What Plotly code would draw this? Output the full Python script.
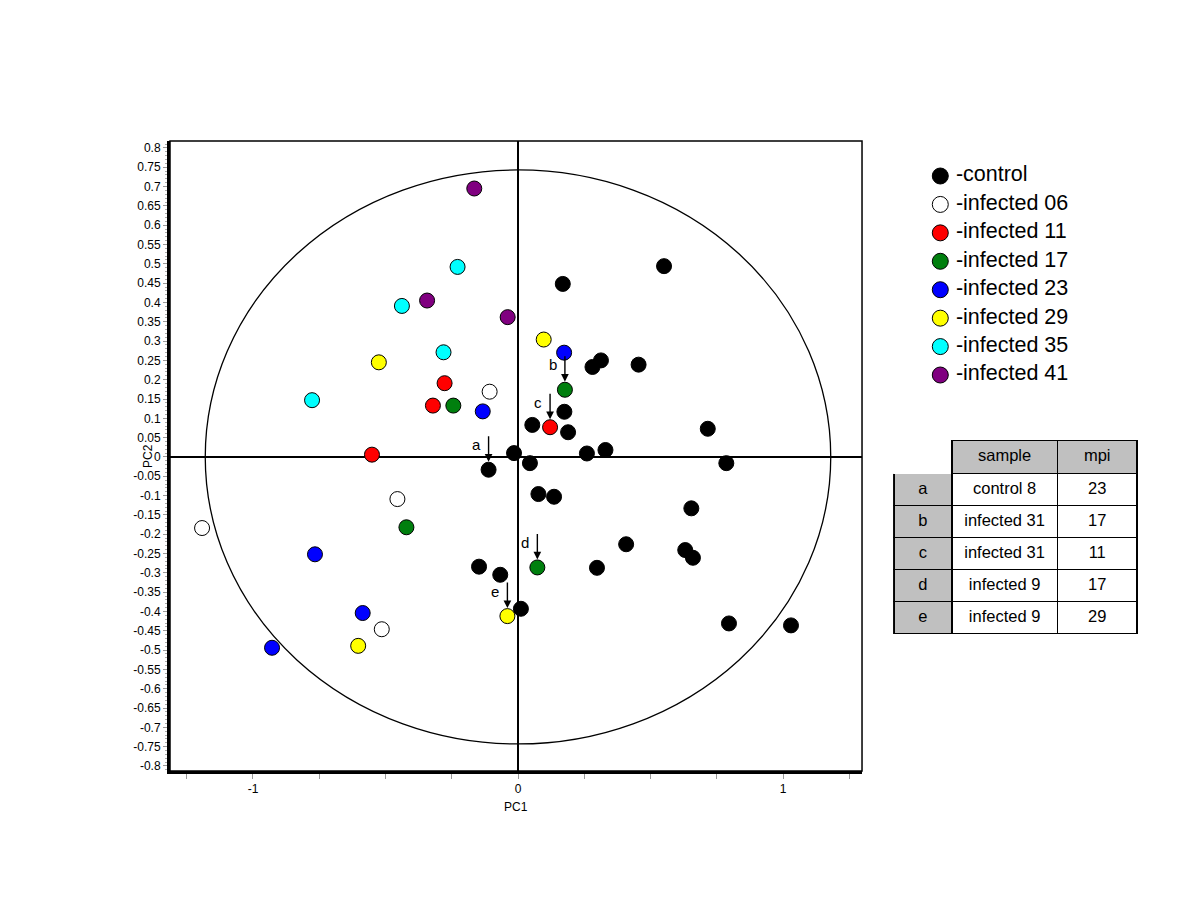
import plotly.graph_objects as go

# ---------------- data ----------------
groups = ["-control", "-infected 06", "-infected 11", "-infected 17",
          "-infected 23", "-infected 29", "-infected 35", "-infected 41"]
colors = ["#000000", "#ffffff", "#ff0000", "#007f0e", "#0000ff", "#ffff00", "#00ffff", "#800080"]

control_x = [0.169, 0.551, 0.313, 0.281, 0.455, 0.175, 0.054, 0.189, 0.716, -0.015, 0.260, 0.330,
             0.045, -0.111, 0.786, 0.077, 0.136, 0.654, 0.408, 0.631, 0.660, 0.298, -0.147, -0.067,
             0.011, 0.796, 1.030]
control_y = [0.448, 0.494, 0.250, 0.233, 0.239, 0.117, 0.083, 0.064, 0.073, 0.010, 0.009, 0.018,
             -0.016, -0.033, -0.016, -0.096, -0.103, -0.133, -0.226, -0.241, -0.261, -0.287, -0.284,
             -0.305, -0.393, -0.431, -0.436]
inf06_x = [-0.107, -0.455, -1.192, -0.514]
inf06_y = [0.169, -0.109, -0.184, -0.446]
inf11_x = [-0.277, -0.321, -0.551, 0.121]
inf11_y = [0.191, 0.133, 0.006, 0.077]
inf17_x = [-0.244, 0.177, -0.421, 0.073]
inf17_y = [0.133, 0.174, -0.182, -0.286]
inf23_x = [0.174, -0.133, -0.766, -0.586, -0.928]
inf23_y = [0.270, 0.118, -0.252, -0.404, -0.494]
inf29_x = [0.097, -0.525, -0.603, -0.040]
inf29_y = [0.304, 0.245, -0.489, -0.412]
inf35_x = [-0.228, -0.438, -0.281, -0.777]
inf35_y = [0.492, 0.391, 0.271, 0.147]
inf41_x = [-0.165, -0.343, -0.039]
inf41_y = [0.695, 0.405, 0.362]

series_x = [control_x, inf06_x, inf11_x, inf17_x, inf23_x, inf29_x, inf35_x, inf41_x]
series_y = [control_y, inf06_y, inf11_y, inf17_y, inf23_y, inf29_y, inf35_y, inf41_y]

# arrow-marked samples (targets)
arrow_labels = ["a", "b", "c", "d", "e"]
arrow_x = [-0.111, 0.177, 0.121, 0.073, -0.040]
arrow_y = [-0.033, 0.174, 0.077, -0.286, -0.412]

# table
table_ids = ["a", "b", "c", "d", "e"]
table_sample = ["control 8", "infected 31", "infected 31", "infected 9", "infected 9"]
table_mpi = ["23", "17", "11", "17", "29"]

# confidence ellipse radii
ellipse_rx = 1.18
ellipse_ry = 0.743

y_ticks = [round(-0.8 + 0.05 * i, 2) for i in range(33)]
x_ticks = [-1.25, -1, -0.75, -0.5, -0.25, 0, 0.25, 0.5, 0.75, 1, 1.25]
x_ticktext = ["", "-1", "", "", "", "0", "", "", "", "1", ""]

# ---------------- figure ----------------
FONT = "Liberation Sans, Arial, sans-serif"
fig = go.Figure()

for name, col, xs, ys in zip(groups, colors, series_x, series_y):
    fig.add_trace(go.Scatter(
        x=xs, y=ys, mode="markers", name=name,
        marker=dict(size=15, color=col, line=dict(color="#000000", width=1)),
        xaxis="x", yaxis="y", showlegend=False))

# key (legend) drawn as a category-axis scatter: symbols + labels
fig.add_trace(go.Scatter(
    x=[0] * len(groups), y=groups, mode="markers", cliponaxis=False,
    marker=dict(size=16, color=colors, line=dict(color="#000000", width=1)),
    xaxis="x2", yaxis="y2", showlegend=False, hoverinfo="skip"))
fig.add_trace(go.Scatter(
    x=[0.075] * len(groups), y=groups, mode="text", text=groups,
    textposition="middle right", cliponaxis=False,
    textfont=dict(family=FONT, size=21.5, color="#000000"),
    xaxis="x2", yaxis="y2", showlegend=False, hoverinfo="skip"))

fig.add_trace(go.Table(
    domain=dict(x=[0.748, 1.0], y=[0.205, 0.525]),
    columnwidth=[58, 106, 80],
    header=dict(values=["", "sample", "mpi"],
                fill=dict(color=["#ffffff", "#c0c0c0", "#c0c0c0"]),
                line=dict(color=["#ffffff", "#000000", "#000000"], width=1.5),
                font=dict(family=FONT, size=16.5, color="#000000"),
                align="center", height=33),
    cells=dict(values=[table_ids, table_sample, table_mpi],
               fill=dict(color=["#c0c0c0", "#ffffff", "#ffffff"]),
               line=dict(color="#000000", width=1.5),
               font=dict(family=FONT, size=16.5, color="#000000"),
               align="center", height=32),
))

fig.add_shape(type="circle", xref="x", yref="y",
              x0=-ellipse_rx, x1=ellipse_rx, y0=-ellipse_ry, y1=ellipse_ry,
              line=dict(color="#000000", width=1.3), layer="below")
# thin frame (top/right)
fig.add_shape(type="rect", xref="x domain", yref="y domain", x0=0, x1=1, y0=0, y1=1,
              line=dict(color="#000000", width=1.5))

annotations = []
for lab, ax_, ay_ in zip(arrow_labels, arrow_x, arrow_y):
    annotations.append(dict(x=ax_, y=ay_, xref="x", yref="y", text="", showarrow=True,
                            ax=0, ay=-35, arrowhead=2, arrowsize=1.1, arrowwidth=1.4,
                            arrowcolor="#000000", standoff=8))
    annotations.append(dict(x=ax_, y=ay_, xref="x", yref="y", text=lab, showarrow=False,
                            xshift=-12, yshift=25,
                            font=dict(family=FONT, size=15, color="#000000")))
# axis titles
annotations.append(dict(x=0.5 * 0.7149, y=-0.057, xref="paper", yref="paper", text="PC1",
                        showarrow=False, xanchor="center", yanchor="middle",
                        font=dict(family=FONT, size=12, color="#000000")))
annotations.append(dict(x=-0.0227, y=0.5, xref="paper", yref="paper", text="PC2",
                        showarrow=False, textangle=-90, xanchor="center", yanchor="middle",
                        font=dict(family=FONT, size=12, color="#000000")))

fig.update_layout(
    width=1200, height=900,
    margin=dict(l=162, r=70, t=133, b=137),
    paper_bgcolor="#ffffff", plot_bgcolor="#ffffff",
    font=dict(family=FONT, size=12, color="#000000"),
    showlegend=False,
    xaxis=dict(domain=[0, 0.7149], range=[-1.313, 1.298], tickmode="array",
               tickvals=x_ticks, ticktext=x_ticktext, ticks="outside", ticklen=5,
               tickcolor="#999999", tickwidth=1, showgrid=False,
               zeroline=True, zerolinecolor="#000000", zerolinewidth=1.5,
               showline=True, linecolor="#000000", linewidth=3,
               tickfont=dict(family=FONT, size=12, color="#000000")),
    yaxis=dict(domain=[0, 1], range=[-0.813, 0.818], tickmode="array",
               tickvals=y_ticks, ticktext=[f"{v:g}" for v in y_ticks],
               ticks="outside", ticklen=4, tickcolor="#999999", tickwidth=1,
               minor=dict(dtick=0.01, ticks="outside", ticklen=2, tickcolor="#aaaaaa", showgrid=False),
               showgrid=False, zeroline=True, zerolinecolor="#000000", zerolinewidth=1.5,
               showline=True, linecolor="#000000", linewidth=3,
               tickfont=dict(family=FONT, size=12, color="#000000")),
    xaxis2=dict(domain=[0.785, 1.0], range=[-0.05, 0.95], anchor="y2", visible=False,
                showgrid=False, zeroline=False, fixedrange=True),
    yaxis2=dict(domain=[0.606, 0.967], type="category", range=[7.5, -0.5], anchor="x2",
                visible=False, showgrid=False, zeroline=False, fixedrange=True),
    annotations=annotations,
)

fig.write_html("out.html")
